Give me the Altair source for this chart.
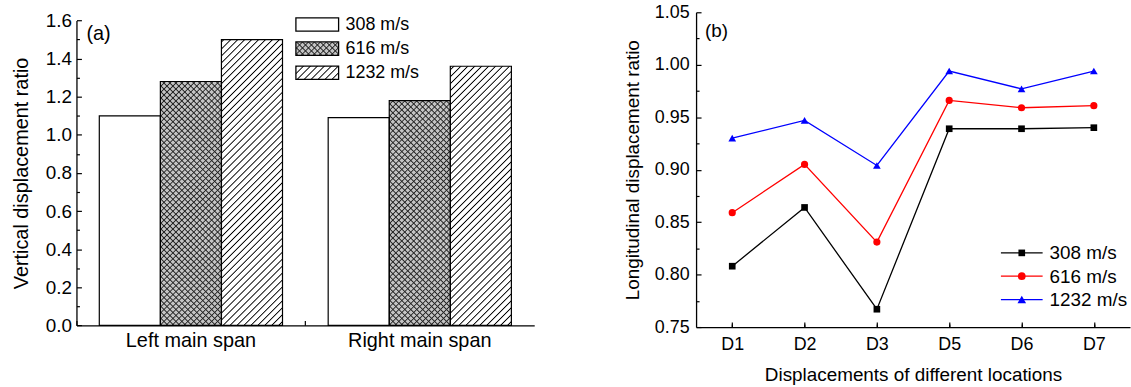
import math
import altair as alt

# ---------------- data ----------------
spans = ["Left main span", "Right main span"]
speeds = ["308 m/s", "616 m/s", "1232 m/s"]
ratio_left = [1.10, 1.28, 1.50]
ratio_right = [1.09, 1.18, 1.36]

locations = ["D1", "D2", "D3", "D5", "D6", "D7"]
long_308 = [0.808, 0.864, 0.767, 0.939, 0.939, 0.940]
long_616 = [0.859, 0.905, 0.831, 0.966, 0.959, 0.961]
long_1232 = [0.930, 0.947, 0.904, 0.994, 0.977, 0.994]

a_ticks = [0.0, 0.2, 0.4, 0.6, 0.8, 1.0, 1.2, 1.4, 1.6]
a_minor = [0.1, 0.3, 0.5, 0.7, 0.9, 1.1, 1.3, 1.5]
b_ticks = [0.75, 0.80, 0.85, 0.90, 0.95, 1.00, 1.05]
b_minor = [0.775, 0.825, 0.875, 0.925, 0.975, 1.025]

FONT = "Liberation Sans"
CLEAR = "rgba(0,0,0,0)"

# ---------------- hatch helper (soft-edged gradient stripes, phase-continuous) ----------------
def hatch(w, h, step, lw, bg, fg, direction, y_top=0.0, r=0.6):
    """Diagonal stripes in a w x h box; step / lw are horizontal spacing and thickness (px)."""
    L = w + h
    c = L / (w * w + h * h)
    if direction == "/":
        x1, y1, x2, y2 = 0, 0, c * w, c * h
        shift = y_top
    else:
        x1, y1, x2, y2 = 0, 1, c * w, 1 - c * h
        shift = -(h + y_top)
    stops = []
    k = math.floor((shift - lw - 2 * r) / step)
    while True:
        a = k * step - shift
        if a - r > L:
            break
        if a + lw + r >= 0:
            for pos, col in ((a - r, bg), (a + r, fg), (a + lw - r, fg), (a + lw + r, bg)):
                stops.append({"offset": min(max(pos, 0), L) / L, "color": col})
        k += 1
    if not stops:
        stops = [{"offset": 0, "color": bg}, {"offset": 1, "color": bg}]
    return {"gradient": "linear", "x1": x1, "y1": y1, "x2": x2, "y2": y2, "stops": stops}


# ---------------- panel (a) ----------------
AW = 461
TOP_A = 8.3
AH = 315.3
AH_EFF = AH - TOP_A
PPU = AH_EFF / 1.6
PAD_OUT = 0.374
BW = AW / 2 / (3 + 2 * PAD_OUT)
SEG = 0.1
OVL = 0.006

def fill_base(speed, w, h, y_top):
    if speed == "616 m/s":
        return hatch(w, h, 6.0, 1.3, "#c4c4c4", "#2a2a2a", "/", y_top)
    if speed == "1232 m/s":
        return hatch(w, h, 7.0, 1.3, "white", "black", "/", y_top)
    return "white"

def fill_cross(speed, w, h, y_top):
    if speed == "616 m/s":
        return hatch(w, h, 6.0, 1.3, CLEAR, "#2a2a2a", "\\", y_top)
    return CLEAR

bar_rows = []
seg_rows = []
for span, vals in zip(spans, [ratio_left, ratio_right]):
    for sp, v in zip(speeds, vals):
        bar_rows.append({"span": span, "speed": sp, "ratio": v})
        k = 0
        while k * SEG < v - 1e-9:
            lo = k * SEG
            hi = min((k + 1) * SEG, v)
            top1 = min(hi + OVL, v)
            g1 = fill_base(sp, BW, (top1 - lo) * PPU, (1.6 - top1) * PPU)
            g2 = fill_cross(sp, BW, (hi - lo) * PPU, (1.6 - hi) * PPU)
            seg_rows.append({"span": span, "speed": sp, "lo": lo, "hi1": top1, "hi2": hi,
                             "g1": g1, "g2": g2})
            k += 1
bar_data = alt.Data(values=bar_rows)
seg_data = alt.Data(values=seg_rows)

xa_scale = alt.Scale(domain=spans, paddingInner=0, paddingOuter=0)
xo_scale = alt.Scale(domain=speeds, paddingInner=0, paddingOuter=PAD_OUT)
ya_scale = alt.Scale(domain=[0, 1.6], nice=False, zero=True, range=[AH, TOP_A])

ya_main = alt.Axis(orient="left", values=a_ticks, format=".1f", ticks=False, tickSize=0,
                   labelPadding=5, labelFontSize=19, labelFont=FONT, labelColor="black",
                   title="Vertical displacement ratio", titleFontSize=20, titleFont=FONT,
                   titleFontWeight="normal", titleColor="black", titlePadding=14,
                   domainColor="black", domainWidth=1.3, grid=False)
xa_main = alt.Axis(orient="bottom", ticks=False, tickSize=0, labelPadding=5, labelFontSize=20,
                   labelFont=FONT, labelColor="black", labelAngle=0, title=None,
                   domainColor="black", domainWidth=1.3, grid=False, bandPosition=0.5)

seg1 = alt.Chart(seg_data).mark_bar(strokeWidth=0).encode(
    x=alt.X("span:N", scale=xa_scale, axis=None),
    xOffset=alt.XOffset("speed:N", scale=xo_scale),
    y=alt.Y("lo:Q", scale=ya_scale, axis=None),
    y2="hi1:Q",
    fill=alt.Fill("g1:N", scale=None),
)
seg2 = alt.Chart(seg_data).mark_bar(strokeWidth=0).encode(
    x=alt.X("span:N", scale=xa_scale, axis=None),
    xOffset=alt.XOffset("speed:N", scale=xo_scale),
    y=alt.Y("lo:Q", scale=ya_scale, axis=None),
    y2="hi2:Q",
    fill=alt.Fill("g2:N", scale=None),
)
outline = alt.Chart(bar_data).mark_bar(fill=CLEAR, stroke="black", strokeWidth=1.2).encode(
    x=alt.X("span:N", scale=xa_scale, axis=xa_main),
    xOffset=alt.XOffset("speed:N", scale=xo_scale),
    y=alt.Y("ratio:Q", scale=ya_scale, axis=ya_main),
)
ticks_a_major = alt.Chart(bar_data).mark_point(opacity=0, size=0).encode(
    x=alt.X("span:N", scale=xa_scale,
            axis=alt.Axis(orient="top", offset=-AH, bandPosition=0, tickSize=5, tickWidth=1.2,
                          tickColor="black", labels=False, domain=False, title=None, grid=False)),
    y=alt.Y("ratio:Q", scale=ya_scale,
            axis=alt.Axis(orient="right", offset=-AW, values=a_ticks, tickSize=5, tickWidth=1.2,
                          tickColor="black", labels=False, domain=False, title=None, grid=False)),
)
ticks_a_minor = alt.Chart(bar_data).mark_point(opacity=0, size=0).encode(
    x=alt.X("span:N", scale=xa_scale, axis=None),
    y=alt.Y("ratio:Q", scale=ya_scale,
            axis=alt.Axis(orient="right", offset=-AW, values=a_minor, tickSize=3, tickWidth=1.2,
                          tickColor="black", labels=False, domain=False, title=None, grid=False)),
)

legend_a_layers = []
LBW, LBH = 43, 13.4
for i, sp in enumerate(speeds):
    cy = TOP_A + 4 + i * 24.3
    g1 = fill_base(sp, LBW, LBH, 0)
    g2 = fill_cross(sp, LBW, LBH, 0)
    one = alt.Data(values=[{"label": sp}])
    legend_a_layers.append(alt.Chart(one).mark_rect(fill=g1 if isinstance(g1, str) else alt.Gradient(**g1),
                                                   stroke="black", strokeWidth=1.3).encode(
        x=alt.value(221), x2=alt.value(221 + LBW), y=alt.value(cy - LBH / 2), y2=alt.value(cy + LBH / 2)))
    if not isinstance(g2, str):
        legend_a_layers.append(alt.Chart(one).mark_rect(fill=alt.Gradient(**g2), strokeWidth=0).encode(
            x=alt.value(221), x2=alt.value(221 + LBW), y=alt.value(cy - LBH / 2), y2=alt.value(cy + LBH / 2)))
    legend_a_layers.append(alt.Chart(one).mark_text(align="left", baseline="middle", font=FONT,
                                                   fontSize=18, color="black").encode(
        x=alt.value(271), y=alt.value(cy + 0.5), text="label:N"))

label_a = alt.Chart(alt.Data(values=[{"t": "(a)"}])).mark_text(
    align="left", baseline="middle", font=FONT, fontSize=20, color="black").encode(
    x=alt.value(10), y=alt.value(TOP_A + 14), text="t:N")

panel_a = alt.layer(seg1, seg2, outline, ticks_a_major, ticks_a_minor, *legend_a_layers, label_a).resolve_axis(
    x="independent", y="independent").properties(width=AW, height=AH)

# ---------------- panel (b) ----------------
BWD, BH = 437, 317
series = [("308 m/s", long_308, "black", "square", 45),
          ("616 m/s", long_616, "#ff0000", "circle", 60),
          ("1232 m/s", long_1232, "#0000ff", "triangle-up", 75)]
line_rows = []
for name, vals, col, shp, sz in series:
    for loc, v in zip(locations, vals):
        line_rows.append({"loc": loc, "series": name, "ratio": v})
line_data = alt.Data(values=line_rows)

xb_scale = alt.Scale(domain=locations, paddingInner=0, paddingOuter=0)
yb_scale = alt.Scale(domain=[0.75, 1.05], nice=False, zero=False)
col_scale = alt.Scale(domain=[s[0] for s in series], range=[s[2] for s in series])
shp_scale = alt.Scale(domain=[s[0] for s in series], range=[s[3] for s in series])
sz_scale = alt.Scale(domain=[s[0] for s in series], range=[s[4] for s in series])

yb_main = alt.Axis(orient="left", values=b_ticks, format=".2f", ticks=False, tickSize=0,
                   labelPadding=7, labelFontSize=18, labelFont=FONT, labelColor="black",
                   title="Longitudinal displacement ratio", titleFontSize=19, titleFont=FONT,
                   titleFontWeight="normal", titleColor="black", titlePadding=12,
                   domainColor="black", domainWidth=1.3, grid=False)
xb_main = alt.Axis(orient="bottom", ticks=False, tickSize=0, labelPadding=9, labelFontSize=18,
                   labelFont=FONT, labelColor="black", labelAngle=0,
                   title="Displacements of different locations", titleFontSize=19, titleFont=FONT,
                   titleFontWeight="normal", titleColor="black", titlePadding=12,
                   domainColor="black", domainWidth=1.3, grid=False, bandPosition=0.5)

lines = alt.Chart(line_data).mark_line(strokeWidth=1.3).encode(
    x=alt.X("loc:N", scale=xb_scale, axis=xb_main, sort=locations),
    y=alt.Y("ratio:Q", scale=yb_scale, axis=yb_main),
    color=alt.Color("series:N", scale=col_scale, legend=None),
)
points = alt.Chart(line_data).mark_point(filled=True, opacity=1).encode(
    x=alt.X("loc:N", scale=xb_scale, axis=None, sort=locations),
    y=alt.Y("ratio:Q", scale=yb_scale, axis=None),
    color=alt.Color("series:N", scale=col_scale, legend=None),
    shape=alt.Shape("series:N", scale=shp_scale, legend=None),
    size=alt.Size("series:N", scale=sz_scale, legend=None),
)
ticks_b_major = alt.Chart(line_data).mark_point(opacity=0, size=0).encode(
    x=alt.X("loc:N", scale=xb_scale, sort=locations,
            axis=alt.Axis(orient="top", offset=-BH, bandPosition=0.5, tickSize=5, tickWidth=1.2,
                          tickColor="black", labels=False, domain=False, title=None, grid=False)),
    y=alt.Y("ratio:Q", scale=yb_scale,
            axis=alt.Axis(orient="right", offset=-BWD, values=b_ticks, tickSize=5, tickWidth=1.2,
                          tickColor="black", labels=False, domain=False, title=None, grid=False)),
)
ticks_b_minor = alt.Chart(line_data).mark_point(opacity=0, size=0).encode(
    x=alt.X("loc:N", scale=xb_scale, sort=locations,
            axis=alt.Axis(orient="top", offset=-BH, bandPosition=0, tickSize=3, tickWidth=1.2,
                          tickColor="black", labels=False, domain=False, title=None, grid=False)),
    y=alt.Y("ratio:Q", scale=yb_scale,
            axis=alt.Axis(orient="right", offset=-BWD, values=b_minor, tickSize=3, tickWidth=1.2,
                          tickColor="black", labels=False, domain=False, title=None, grid=False)),
)

legend_b_layers = []
for i, (name, vals, col, shp, sz) in enumerate(series):
    cy = 242.3 + i * 23.5
    one = alt.Data(values=[{"label": name}])
    legend_b_layers.append(alt.Chart(one).mark_rule(color=col, strokeWidth=1.3).encode(
        x=alt.value(307), x2=alt.value(349), y=alt.value(cy)))
    legend_b_layers.append(alt.Chart(one).mark_point(filled=True, opacity=1, color=col, shape=shp,
                                                     size=sz).encode(
        x=alt.value(328), y=alt.value(cy)))
    legend_b_layers.append(alt.Chart(one).mark_text(align="left", baseline="middle", font=FONT,
                                                   fontSize=19, color="black").encode(
        x=alt.value(356), y=alt.value(cy + 0.5), text="label:N"))

label_b = alt.Chart(alt.Data(values=[{"t": "(b)"}])).mark_text(
    align="left", baseline="middle", font=FONT, fontSize=19, color="black").encode(
    x=alt.value(9), y=alt.value(19), text="t:N")

panel_b = alt.layer(lines, points, ticks_b_major, ticks_b_minor, *legend_b_layers, label_b).resolve_axis(
    x="independent", y="independent").properties(width=BWD, height=BH)

chart = alt.hconcat(panel_a, panel_b, spacing=88).properties(
    padding={"left": 11, "top": 1, "right": 0, "bottom": 0},
    background="white",
).configure_view(stroke="transparent")

chart.save("out.html", embed_options={"renderer": "svg", "actions": False})
